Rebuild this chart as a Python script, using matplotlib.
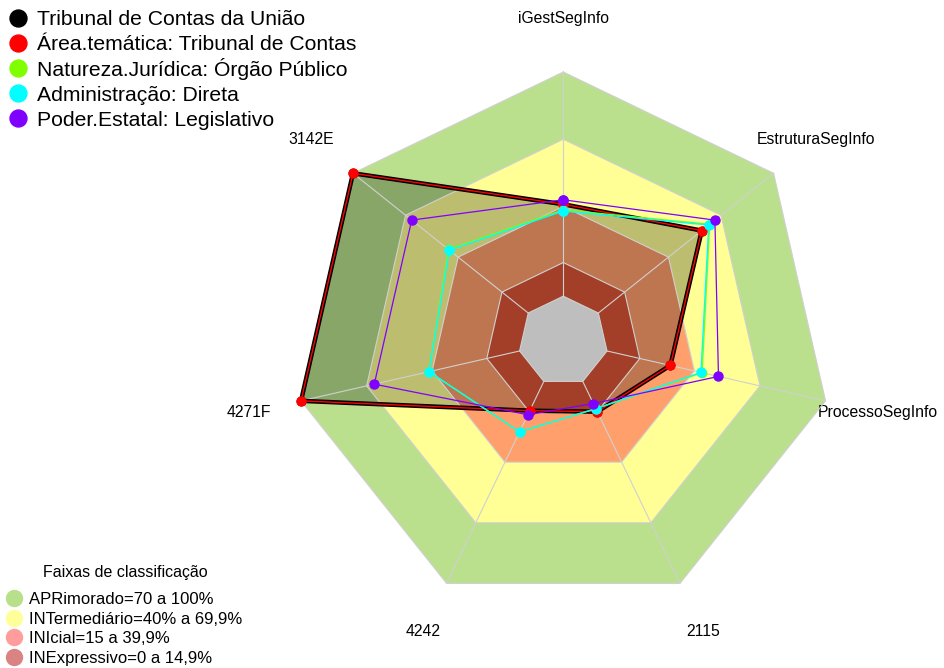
import numpy as np
import matplotlib
matplotlib.use("Agg")
import matplotlib.pyplot as plt
from matplotlib.lines import Line2D

plt.rcParams['font.family'] = ['Liberation Sans', 'DejaVu Sans']

categories = ['iGestSegInfo', 'EstruturaSegInfo', 'ProcessoSegInfo', '2115', '4242', '4271F', '3142E']
tcu = [41, 59, 29, 15, 14.5, 100, 100]
area_tematica = [41, 59, 29, 15, 14.5, 100, 100]
natureza = [38.5, 63.5, 43.5, 13.5, 25, 41.5, 45.5]
administracao = [38, 63, 43, 13.5, 25, 41.5, 45]
poder = [43, 66.5, 51, 11, 16.5, 66.5, 66.5]

series_names = ['Tribunal de Contas da União', 'Área.temática: Tribunal de Contas',
                'Natureza.Jurídica: Órgão Público', 'Administração: Direta',
                'Poder.Estatal: Legislativo']
series_colors = ['#000000', '#FF0000', '#80FF00', '#00FFFF', '#8000FF']

band_levels = [100, 70, 40, 15]
band_colors = ['#BAE08E', '#FFFF96', '#FFA06C', '#DC5538']
band_labels = ['APRimorado=70 a 100%', 'INTermediário=40% a 69,9%',
               'INIcial=15 a 39,9%', 'INExpressivo=0 a 14,9%']
band_legend_colors = ['#B8DF8A', '#FFFF99', '#FF9C9C', '#D98383']

W, H = 944, 668
fig = plt.figure(figsize=(W / 100, H / 100), dpi=100)
cx, cy, R = 563.3, 341.0, 269.0
ax = fig.add_axes([(cx - R) / W, (H - cy - R) / H, 2 * R / W, 2 * R / H], projection='polar')
ax.set_theta_offset(np.pi / 2)
ax.set_theta_direction(-1)
ax.set_ylim(-20, 100)
ax.axis('off')

n = len(categories)
theta = np.arange(n) * 2 * np.pi / n
theta_c = np.append(theta, theta[0])

def closed(vals):
    v = np.asarray(vals, dtype=float)
    return np.append(v, v[0])

# bands
for lvl, col in zip(band_levels, band_colors):
    ax.fill(theta_c, closed([lvl] * n), color=col, lw=0, zorder=1, clip_on=False)

# shaded fill of main series
ax.fill(theta_c, closed(tcu), color='black', alpha=0.26, lw=0, zorder=2, clip_on=False)

# grey center
ax.fill(theta_c, closed([0] * n), color='#BEBEBE', lw=0, zorder=3, clip_on=False)

# grid
for lvl in [0] + band_levels:
    ax.plot(theta_c, closed([lvl] * n), color='#D0D0D0', lw=0.8, zorder=4, clip_on=False)
for t in theta:
    ax.plot([t, t], [0, 100], color='#D0D0D0', lw=0.8, zorder=4, clip_on=False)

# series
ax.plot(theta_c, closed(tcu), color='black', lw=3.2, marker='o', ms=6, zorder=5, clip_on=False)
ax.plot(theta_c, closed(area_tematica), color='#FF0000', lw=1.0, marker='o', ms=6.5, zorder=6, clip_on=False)
ax.plot(theta_c, closed(natureza), color='#80FF00', lw=1.0, marker='o', ms=6, zorder=7, clip_on=False)
ax.plot(theta_c, closed(administracao), color='#00FFFF', lw=1.0, marker='o', ms=6.5, zorder=8, clip_on=False)
ax.plot(theta_c, closed(poder), color='#8000FF', lw=0.9, marker='o', ms=6.5, zorder=9, clip_on=False)

# axis labels
for t, lab in zip(theta, categories):
    ax.text(t, 124, lab, ha='center', va='center', fontsize=11.3, color='black', clip_on=False)

# top legend (evenly spaced rows)
for i, (name, col) in enumerate(zip(series_names, series_colors)):
    yc = 17.5 + 25.2 * i
    fig.add_artist(Line2D([18 / W], [1 - yc / H], ls='none', marker='o', ms=12.2, color=col))
    fig.text(37 / W, 1 - (yc + 7.6) / H, name, ha='left', va='baseline', fontsize=15.2)

h2 = [Line2D([], [], ls='none', marker='o', ms=11.5, color=c) for c in band_legend_colors]
leg2 = fig.legend(h2, band_labels, loc='lower left', bbox_to_anchor=(0.0, 0.0),
                  frameon=False, fontsize=12, borderaxespad=0, borderpad=0.15,
                  handlelength=1.4, handletextpad=0.2, labelspacing=0.27)
fig.text(125 / W, 1 - 572 / H, 'Faixas de classificação', ha='center', va='center', fontsize=11.5)

fig.savefig('out.png', dpi=100)
